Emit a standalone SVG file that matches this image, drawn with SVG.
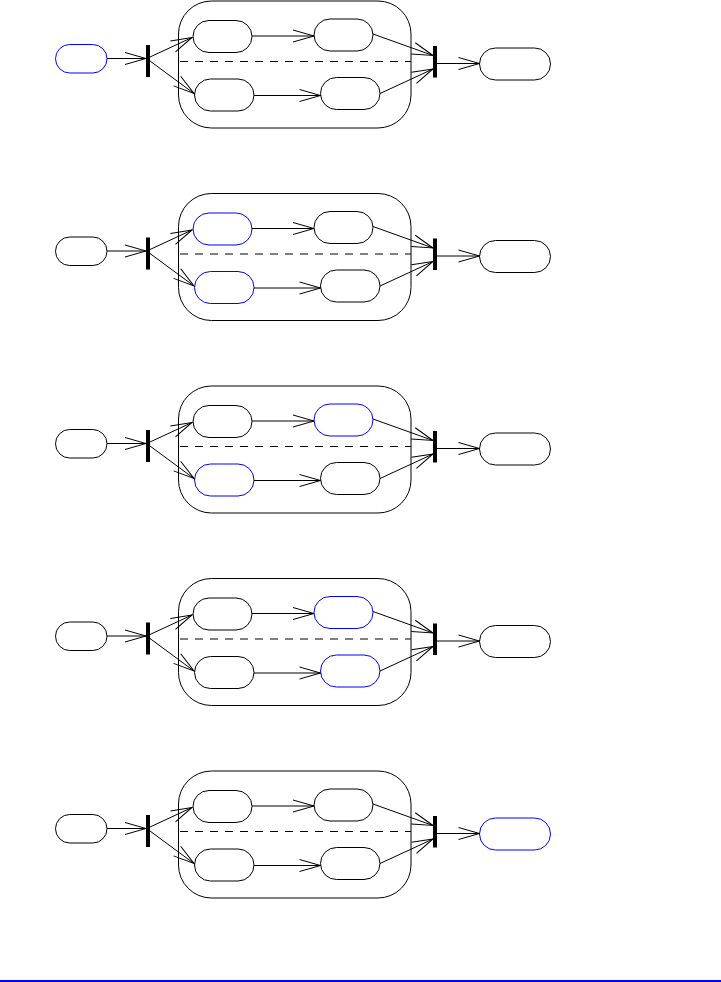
<svg xmlns="http://www.w3.org/2000/svg" width="721" height="982" viewBox="0 0 721 982">
<style>
.st{fill:#fff;stroke:#000;stroke-width:1}
.hi{stroke:#0000ff}
.comp{fill:none;stroke:#000;stroke-width:1}
.dash{stroke:#000;stroke-width:1;stroke-dasharray:8,7}
.bar{fill:#000}
.c line{stroke:#000;stroke-width:1;marker-end:url(#arr)}
</style>
<defs>
<marker id="arr" markerWidth="24" markerHeight="14" refX="22" refY="7" orient="auto" markerUnits="userSpaceOnUse" viewBox="0 0 24 14"><path d="M1,1 L22,7 L1,13" fill="none" stroke="#000" stroke-width="1"/></marker>
</defs>
<rect width="721" height="982" fill="#fff"/>

<g id="diagram1">
<g id="d1-composite"><rect class="comp" x="178.5" y="1" width="232.5" height="127" rx="33"/><line class="dash" x1="180" y1="61.5" x2="411" y2="61.5"/></g>
<g id="d1-initial"><rect class="st hi" x="55.5" y="44.5" width="51.5" height="28.5" rx="14.25"/></g>
<g id="d1-fork"><rect class="bar" x="146" y="45" width="4" height="32"/></g>
<g id="d1-s1"><rect class="st" x="193" y="20.5" width="59" height="32" rx="16"/></g>
<g id="d1-s2"><rect class="st" x="314" y="19" width="59" height="32" rx="16"/></g>
<g id="d1-s3"><rect class="st" x="194.5" y="79" width="59.5" height="32" rx="16"/></g>
<g id="d1-s4"><rect class="st" x="320.5" y="77.5" width="59.5" height="32" rx="16"/></g>
<g id="d1-join"><rect class="bar" x="433" y="46" width="4" height="31.5"/></g>
<g id="d1-final"><rect class="st" x="479.5" y="48" width="71" height="32" rx="16"/></g>
<g id="d1-connectors" class="c">
<line x1="107" y1="58.5" x2="146" y2="58.5"/>
<line x1="150" y1="57" x2="192" y2="37.5"/>
<line x1="150" y1="61" x2="194" y2="93.5"/>
<line x1="252" y1="36" x2="314" y2="36"/>
<line x1="254" y1="95.5" x2="320.5" y2="95.5"/>
<line x1="373" y1="34" x2="433" y2="55.5"/>
<line x1="380" y1="93.5" x2="433" y2="69"/>
<line x1="437" y1="63.5" x2="479.5" y2="63.5"/>
</g>
</g>

<g id="diagram2" transform="translate(0,192.5)">
<g id="d2-composite"><rect class="comp" x="178.5" y="1" width="232.5" height="127" rx="33"/><line class="dash" x1="180" y1="61.5" x2="411" y2="61.5"/></g>
<g id="d2-initial"><rect class="st" x="55.5" y="44.5" width="51.5" height="28.5" rx="14.25"/></g>
<g id="d2-fork"><rect class="bar" x="146" y="45" width="4" height="32"/></g>
<g id="d2-s1"><rect class="st hi" x="193" y="20.5" width="59" height="32" rx="16"/></g>
<g id="d2-s2"><rect class="st" x="314" y="19" width="59" height="32" rx="16"/></g>
<g id="d2-s3"><rect class="st hi" x="194.5" y="79" width="59.5" height="32" rx="16"/></g>
<g id="d2-s4"><rect class="st" x="320.5" y="77.5" width="59.5" height="32" rx="16"/></g>
<g id="d2-join"><rect class="bar" x="433" y="46" width="4" height="31.5"/></g>
<g id="d2-final"><rect class="st" x="479.5" y="48" width="71" height="32" rx="16"/></g>
<g id="d2-connectors" class="c">
<line x1="107" y1="58.5" x2="146" y2="58.5"/>
<line x1="150" y1="57" x2="192" y2="37.5"/>
<line x1="150" y1="61" x2="194" y2="93.5"/>
<line x1="252" y1="36" x2="314" y2="36"/>
<line x1="254" y1="95.5" x2="320.5" y2="95.5"/>
<line x1="373" y1="34" x2="433" y2="55.5"/>
<line x1="380" y1="93.5" x2="433" y2="69"/>
<line x1="437" y1="63.5" x2="479.5" y2="63.5"/>
</g>
</g>

<g id="diagram3" transform="translate(0,385)">
<g id="d3-composite"><rect class="comp" x="178.5" y="1" width="232.5" height="127" rx="33"/><line class="dash" x1="180" y1="61.5" x2="411" y2="61.5"/></g>
<g id="d3-initial"><rect class="st" x="55.5" y="44.5" width="51.5" height="28.5" rx="14.25"/></g>
<g id="d3-fork"><rect class="bar" x="146" y="45" width="4" height="32"/></g>
<g id="d3-s1"><rect class="st" x="193" y="20.5" width="59" height="32" rx="16"/></g>
<g id="d3-s2"><rect class="st hi" x="314" y="19" width="59" height="32" rx="16"/></g>
<g id="d3-s3"><rect class="st hi" x="194.5" y="79" width="59.5" height="32" rx="16"/></g>
<g id="d3-s4"><rect class="st" x="320.5" y="77.5" width="59.5" height="32" rx="16"/></g>
<g id="d3-join"><rect class="bar" x="433" y="46" width="4" height="31.5"/></g>
<g id="d3-final"><rect class="st" x="479.5" y="48" width="71" height="32" rx="16"/></g>
<g id="d3-connectors" class="c">
<line x1="107" y1="58.5" x2="146" y2="58.5"/>
<line x1="150" y1="57" x2="192" y2="37.5"/>
<line x1="150" y1="61" x2="194" y2="93.5"/>
<line x1="252" y1="36" x2="314" y2="36"/>
<line x1="254" y1="95.5" x2="320.5" y2="95.5"/>
<line x1="373" y1="34" x2="433" y2="55.5"/>
<line x1="380" y1="93.5" x2="433" y2="69"/>
<line x1="437" y1="63.5" x2="479.5" y2="63.5"/>
</g>
</g>

<g id="diagram4" transform="translate(0,577.5)">
<g id="d4-composite"><rect class="comp" x="178.5" y="1" width="232.5" height="127" rx="33"/><line class="dash" x1="180" y1="61.5" x2="411" y2="61.5"/></g>
<g id="d4-initial"><rect class="st" x="55.5" y="44.5" width="51.5" height="28.5" rx="14.25"/></g>
<g id="d4-fork"><rect class="bar" x="146" y="45" width="4" height="32"/></g>
<g id="d4-s1"><rect class="st" x="193" y="20.5" width="59" height="32" rx="16"/></g>
<g id="d4-s2"><rect class="st hi" x="314" y="19" width="59" height="32" rx="16"/></g>
<g id="d4-s3"><rect class="st" x="194.5" y="79" width="59.5" height="32" rx="16"/></g>
<g id="d4-s4"><rect class="st hi" x="320.5" y="77.5" width="59.5" height="32" rx="16"/></g>
<g id="d4-join"><rect class="bar" x="433" y="46" width="4" height="31.5"/></g>
<g id="d4-final"><rect class="st" x="479.5" y="48" width="71" height="32" rx="16"/></g>
<g id="d4-connectors" class="c">
<line x1="107" y1="58.5" x2="146" y2="58.5"/>
<line x1="150" y1="57" x2="192" y2="37.5"/>
<line x1="150" y1="61" x2="194" y2="93.5"/>
<line x1="252" y1="36" x2="314" y2="36"/>
<line x1="254" y1="95.5" x2="320.5" y2="95.5"/>
<line x1="373" y1="34" x2="433" y2="55.5"/>
<line x1="380" y1="93.5" x2="433" y2="69"/>
<line x1="437" y1="63.5" x2="479.5" y2="63.5"/>
</g>
</g>

<g id="diagram5" transform="translate(0,770)">
<g id="d5-composite"><rect class="comp" x="178.5" y="1" width="232.5" height="127" rx="33"/><line class="dash" x1="180" y1="61.5" x2="411" y2="61.5"/></g>
<g id="d5-initial"><rect class="st" x="55.5" y="44.5" width="51.5" height="28.5" rx="14.25"/></g>
<g id="d5-fork"><rect class="bar" x="146" y="45" width="4" height="32"/></g>
<g id="d5-s1"><rect class="st" x="193" y="20.5" width="59" height="32" rx="16"/></g>
<g id="d5-s2"><rect class="st" x="314" y="19" width="59" height="32" rx="16"/></g>
<g id="d5-s3"><rect class="st" x="194.5" y="79" width="59.5" height="32" rx="16"/></g>
<g id="d5-s4"><rect class="st" x="320.5" y="77.5" width="59.5" height="32" rx="16"/></g>
<g id="d5-join"><rect class="bar" x="433" y="46" width="4" height="31.5"/></g>
<g id="d5-final"><rect class="st hi" x="479.5" y="48" width="71" height="32" rx="16"/></g>
<g id="d5-connectors" class="c">
<line x1="107" y1="58.5" x2="146" y2="58.5"/>
<line x1="150" y1="57" x2="192" y2="37.5"/>
<line x1="150" y1="61" x2="194" y2="93.5"/>
<line x1="252" y1="36" x2="314" y2="36"/>
<line x1="254" y1="95.5" x2="320.5" y2="95.5"/>
<line x1="373" y1="34" x2="433" y2="55.5"/>
<line x1="380" y1="93.5" x2="433" y2="69"/>
<line x1="437" y1="63.5" x2="479.5" y2="63.5"/>
</g>
</g>

<rect id="baseline" x="0" y="980" width="721" height="2" fill="#0000ff"/>
</svg>
